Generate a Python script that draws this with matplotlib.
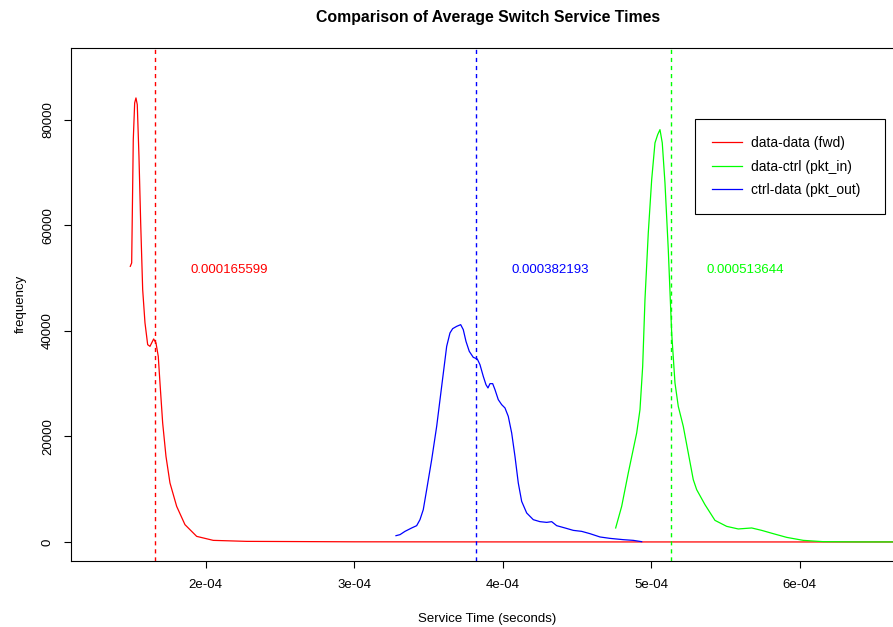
import numpy as np
import matplotlib
matplotlib.use("Agg")
import matplotlib.pyplot as plt

plt.rcParams['font.family'] = ['Liberation Sans', 'DejaVu Sans']

# density curves of the switch service times (seconds, frequency)
fwd_t = [1.4923e-4, 1.5017e-4, 1.5125e-4, 1.5219e-4, 1.5306e-4, 1.5394e-4, 1.5508e-4,
         1.5623e-4, 1.5758e-4, 1.5912e-4, 1.6094e-4, 1.6249e-4, 1.6384e-4, 1.6498e-4,
         1.6653e-4, 1.6808e-4, 1.6923e-4, 1.7104e-4, 1.7327e-4, 1.7596e-4, 1.8047e-4,
         1.8606e-4, 1.9394e-4, 2.0512e-4, 2.2761e-4, 3.0e-4, 4.0e-4, 5.0e-4, 6.0e-4, 7.0e-4]
fwd_f = [52197, 52841, 76193, 83144, 84091, 82822, 73030,
         60473, 47784, 41534, 37367, 37045, 37803, 38447,
         37689, 35152, 30114, 22538, 16212, 11174, 6742,
         3277, 1061, 303, 114, 30, 10, 5, 2, 1]

pkt_in_t = [4.7609e-4, 4.8013e-4, 4.8458e-4, 4.9024e-4, 4.9246e-4, 4.9428e-4, 4.9582e-4,
            4.9805e-4, 5.0034e-4, 5.0256e-4, 5.0438e-4, 5.0593e-4, 5.0747e-4, 5.0929e-4,
            5.1152e-4, 5.1380e-4, 5.1603e-4, 5.1825e-4, 5.2162e-4, 5.2498e-4, 5.2835e-4,
            5.3064e-4, 5.3623e-4, 5.4296e-4, 5.5084e-4, 5.5865e-4, 5.6768e-4, 5.7441e-4,
            5.8222e-4, 5.9125e-4, 6.0242e-4, 6.1589e-4, 6.3838e-4, 7.0e-4]
pkt_in_f = [2652, 6742, 13068, 20644, 25057, 33258, 45890,
            58523, 68617, 75568, 77140, 78087, 75568, 67992,
            55360, 39583, 30114, 25682, 21894, 16856, 11799,
            9905, 7064, 4091, 2955, 2462, 2652, 2197,
            1572, 871, 303, 57, 10, 2]

pkt_out_t = [3.2815e-4, 3.3084e-4, 3.3421e-4, 3.3872e-4, 3.4209e-4, 3.4431e-4, 3.4653e-4,
             3.4882e-4, 3.5219e-4, 3.5556e-4, 3.5892e-4, 3.6229e-4, 3.6451e-4, 3.6633e-4,
             3.6902e-4, 3.7172e-4, 3.7347e-4, 3.7529e-4, 3.7751e-4, 3.8020e-4, 3.8290e-4,
             3.8471e-4, 3.8694e-4, 3.8875e-4, 3.9010e-4, 3.9145e-4, 3.9327e-4, 3.9482e-4,
             3.9704e-4, 3.9933e-4, 4.0155e-4, 4.0377e-4, 4.0606e-4, 4.0828e-4, 4.1051e-4,
             4.1279e-4, 4.1616e-4, 4.2061e-4, 4.2512e-4, 4.2963e-4, 4.3300e-4, 4.3636e-4,
             4.4195e-4, 4.4754e-4, 4.5320e-4, 4.5879e-4, 4.6552e-4, 4.7226e-4, 4.8121e-4,
             4.8795e-4, 4.9360e-4]
pkt_out_f = [1193, 1383, 2008, 2652, 3087, 4223, 6117,
             9905, 15587, 21894, 29470, 37045, 39583, 40398,
             40833, 41155, 40208, 37992, 36098, 34962, 34659,
             33580, 31364, 29792, 29167, 29981, 29981, 28845,
             26951, 26004, 25379, 23788, 20644, 16212, 11174,
             7689, 5492, 4223, 3845, 3712, 3845, 3087,
             2652, 2197, 2008, 1572, 947, 682, 436,
             303, 57]

means = [0.000165599, 0.000382193, 0.000513644]
mean_colors = ['#ff0000', '#0000ff', '#00ff00']
series_names = ['data-data (fwd)', 'data-ctrl (pkt_in)', 'ctrl-data (pkt_out)']

xticks = [2e-4, 3e-4, 4e-4, 5e-4, 6e-4]
xtick_labels = ['2e-04', '3e-04', '4e-04', '5e-04', '6e-04']
yticks = [0, 20000, 40000, 60000, 80000]

fig = plt.figure(figsize=(8.93, 6.27), dpi=100)
ax = fig.add_axes([0.0798, 0.1053, 0.9325, 0.8186])

l1, = ax.plot(fwd_t, fwd_f, color='#ff0000', lw=0.9)
l2, = ax.plot(pkt_in_t, pkt_in_f, color='#00ff00', lw=0.9)
l3, = ax.plot(pkt_out_t, pkt_out_f, color='#0000ff', lw=0.9)

# mean markers with their values
for m, c in zip(means, mean_colors):
    ax.axvline(m, color=c, lw=1.0, dashes=(3.0, 2.8))
    ax.text(m + 5e-5, 51500, '%.9f' % m, color=c,
            fontsize=9.5, ha='center', va='center')

ax.set_xlim(1.0949e-4, 6.7024e-4)
ax.set_ylim(-3600, 93600)
ax.set_xticks(xticks)
ax.set_xticklabels(xtick_labels)
ax.set_yticks(yticks)
ax.set_yticklabels([str(v) for v in yticks], rotation=90, va='center')
ax.tick_params(axis='both', direction='out', length=5, width=0.8, labelsize=9.5)
ax.tick_params(axis='x', pad=8)
ax.tick_params(axis='y', pad=7.5)
for side in ['left', 'top', 'bottom', 'right']:
    ax.spines[side].set_linewidth(0.8)

ax.set_title('Comparison of Average Switch Service Times', fontsize=11.4,
             fontweight='bold', pad=18.5)
ax.set_xlabel('Service Time (seconds)', fontsize=9.5, labelpad=16)
ax.set_ylabel('frequency', fontsize=9.5, labelpad=11)

leg = ax.legend([l1, l2, l3], series_names, loc='upper left',
                bbox_to_anchor=(695 / 893, 1 - 119.3 / 627 - 0.01, 190 / 893, 0.01),
                bbox_transform=fig.transFigure, mode='expand',
                fontsize=10, fancybox=False, framealpha=1, edgecolor='black',
                borderpad=1.2, handlelength=2.2, handletextpad=0.65,
                labelspacing=0.69, borderaxespad=0)
leg.get_frame().set_linewidth(0.8)

fig.savefig('out.png', dpi=100)
